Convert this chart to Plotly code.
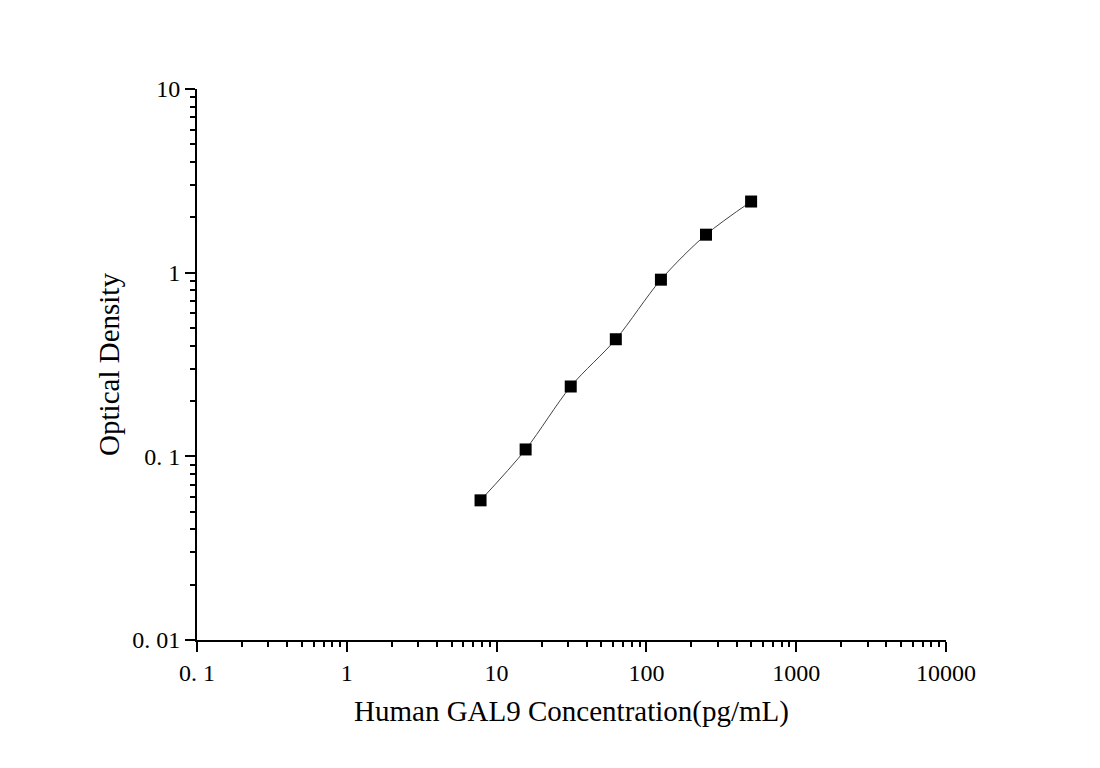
import plotly.graph_objects as go

# ------------------------
# Data
# ------------------------
concentration = [7.8125, 15.625, 31.25, 62.5, 125, 250, 500]
optical_density = [0.0576, 0.109, 0.240, 0.434, 0.916, 1.61, 2.44]

x_tickvals = [0.1, 1, 10, 100, 1000, 10000]
x_ticktext = ["0. 1", "1", "10", "100", "1000", "10000"]
y_tickvals = [0.01, 0.1, 1, 10]
y_ticktext = ["0. 01", "0. 1", "1", "10"]

serif = "Liberation Serif, Times New Roman, serif"

fig = go.Figure()

# fitted curve (smooth line through the standards)
fig.add_trace(go.Scatter(
    x=concentration,
    y=optical_density,
    mode="lines",
    line=dict(color="#444444", width=1, shape="spline", smoothing=0.9),
    showlegend=False,
    hoverinfo="skip"
))

# standard points
fig.add_trace(go.Scatter(
    x=concentration,
    y=optical_density,
    mode="markers",
    marker=dict(symbol="square", size=12, color="black"),
    showlegend=False
))

axis_common = dict(
    type="log",
    showgrid=False,
    zeroline=False,
    showline=True,
    linecolor="black",
    linewidth=2,
    ticks="outside",
    ticklen=10,
    tickwidth=2,
    tickcolor="black",
    tickfont=dict(family=serif, size=24, color="black"),
    minor=dict(ticks="outside", ticklen=5, tickwidth=2, tickcolor="black", dtick="D1"),
    automargin=False,
)

fig.update_xaxes(
    **axis_common,
    range=[-1, 4],
    tickmode="array",
    tickvals=x_tickvals,
    ticktext=x_ticktext,
    title=dict(text="Human GAL9 Concentration(pg/mL)", font=dict(family=serif, size=29, color="black"), standoff=16),
)
fig.update_yaxes(
    **axis_common,
    range=[-2, 1],
    tickmode="array",
    tickvals=y_tickvals,
    ticktext=y_ticktext,
    title=dict(text="Optical Density", font=dict(family=serif, size=29, color="black"), standoff=4),
)

fig.update_layout(
    width=1100,
    height=768,
    margin=dict(l=189, r=162, t=81, b=136),
    plot_bgcolor="white",
    paper_bgcolor="white",
)

fig.write_html("out.html")
